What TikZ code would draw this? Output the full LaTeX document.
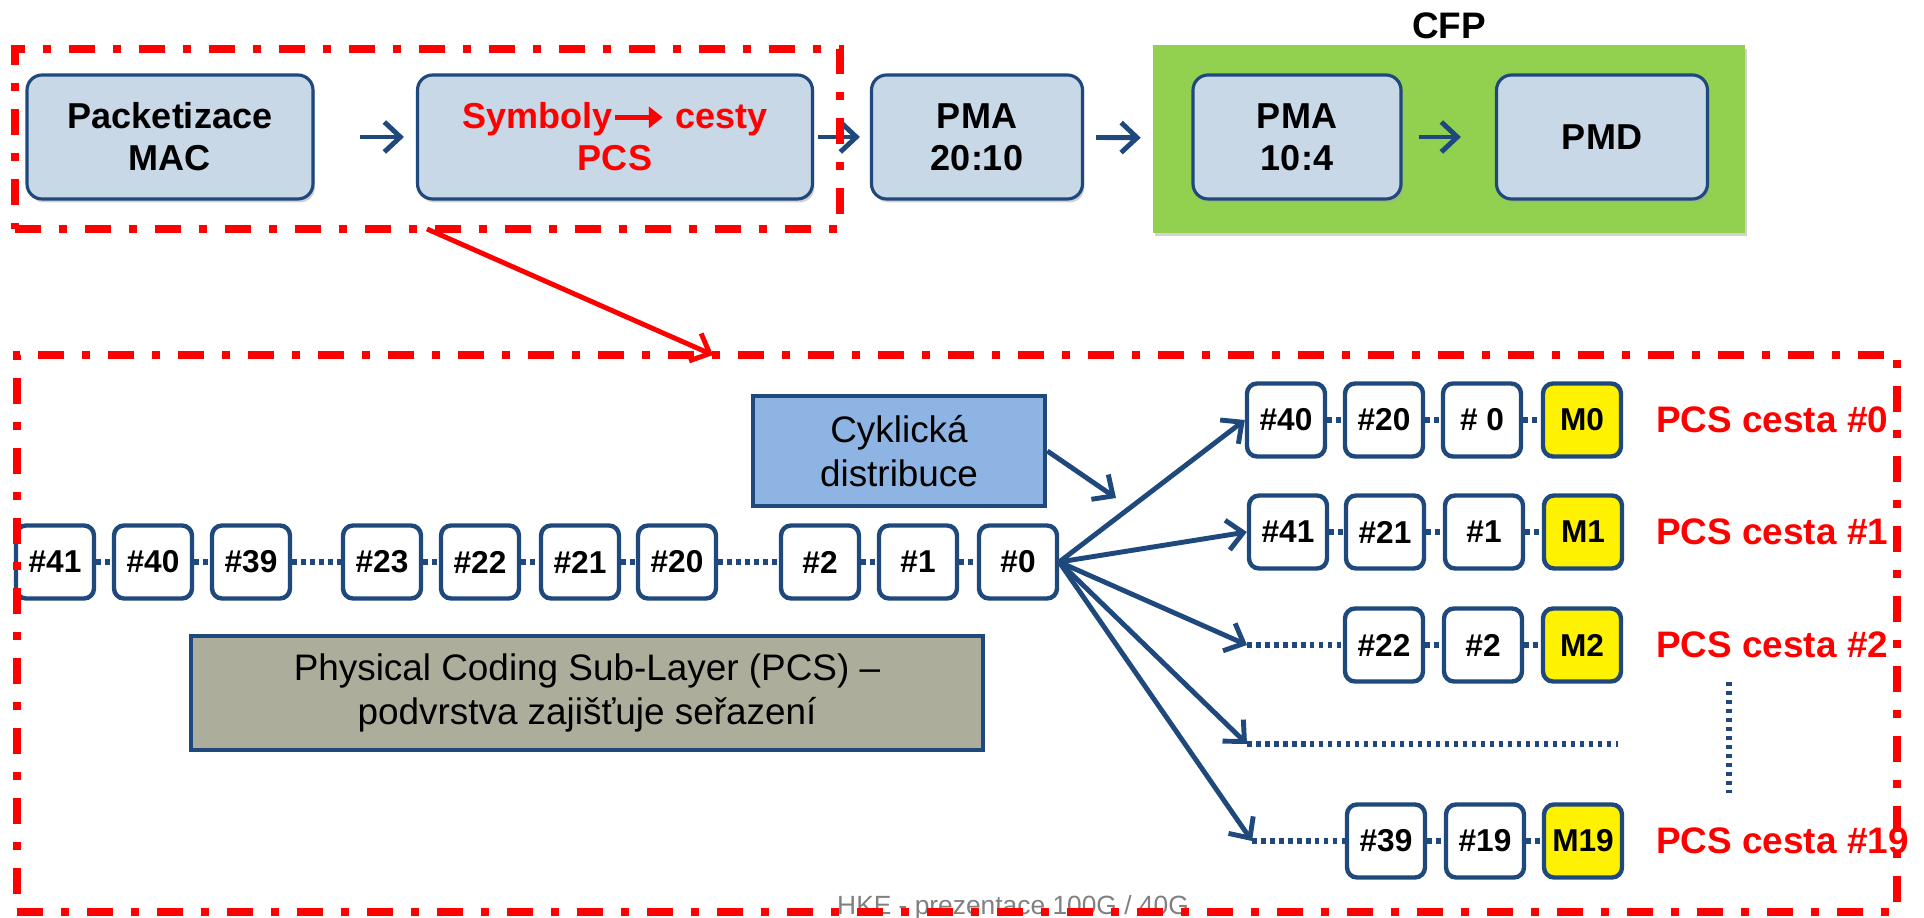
\documentclass[tikz,border=0pt]{standalone}
\usepackage{fontspec}
\setmainfont{Liberation Sans}
\usepackage{xcolor}
\usepackage{tikz}
\usetikzlibrary{positioning, arrows.meta, shadows}
\definecolor{linkblue}{RGB}{31,73,125}
\definecolor{blockfill}{RGB}{200,216,230}
\definecolor{cfpgreen}{RGB}{146,208,80}
\definecolor{distfill}{RGB}{141,180,226}
\definecolor{pcsfill}{RGB}{173,173,155}
\definecolor{footgray}{RGB}{128,128,128}

\begin{document}
\begin{tikzpicture}[
  x=0.02cm, y=-0.02cm,
  blockbox/.style={draw=linkblue, fill=blockfill, line width=1.8pt, rounded corners=0.3cm, minimum width=5.72cm, minimum height=2.48cm, align=center, font=\bfseries\fontsize{20.5}{24}\selectfont, drop shadow={shadow xshift=0.04cm, shadow yshift=-0.07cm, fill=black!35}},
  cfpbox/.style={fill=cfpgreen, minimum width=11.84cm, minimum height=3.76cm, drop shadow={shadow xshift=0.04cm, shadow yshift=-0.07cm, fill=black!35}},
  symbox/.style={draw=linkblue, fill=white, line width=2.5pt, rounded corners=0.2cm, minimum width=1.56cm, minimum height=1.46cm, inner sep=0pt, font=\bfseries\fontsize{18}{20}\selectfont},
  markbox/.style={symbox, fill=yellow},
  plainbox/.style={draw=linkblue, line width=2.7pt, align=center, font=\fontsize{21}{25}\selectfont},
  lanelabel/.style={anchor=west, inner sep=0pt, text=red, font=\bfseries\fontsize{21}{24}\selectfont},
  redframe/.style={draw=red, line width=4.5pt, outer sep=0pt, dash pattern=on 0.52cm off 0.36cm on 0.16cm off 0.36cm},
  flow/.style={draw=linkblue, line width=2.8pt, -{Straight Barb[length=0.32cm, width=0.6cm]}},
  redarrow/.style={draw=red, line width=2.8pt, -{Straight Barb[length=0.32cm, width=0.6cm]}},
  dotlink/.style={draw=linkblue, line width=3pt, dash pattern=on 0.09cm off 0.09cm}
]
\useasboundingbox (0,0) rectangle (1924,918);

% top chain
\node[blockbox] (pkt) at (170,137) {Packetizace\\MAC};
\node[blockbox, minimum width=7.9cm, text=red] (sym) at (615,137) {Symboly\tikz[baseline=-0.6ex]\draw[red, line width=3pt, -{Triangle[length=0.28cm, width=0.42cm]}] (0cm,0cm) -- (0.95cm,0cm);\ cesty\\PCS};
\node[blockbox, minimum width=4.22cm] (pma20) at (977,137) {PMA\\20:10};
\node[cfpbox, label={[font=\bfseries\fontsize{21}{24}\selectfont, label distance=0pt]above:CFP}] (cfp) at (1449,139) {};
\node[blockbox, minimum width=4.16cm] (pma10) at (1297,137) {PMA\\10:4};
\node[blockbox, minimum width=4.22cm] (pmd) at (1602,137) {PMD};

\draw[flow, shorten <=0.9cm, shorten >=0.24cm] (pkt) -- (sym);
\draw[flow, shorten <=0.08cm, shorten >=0.2cm] (sym) -- (pma20);
\draw[flow, shorten <=0.24cm, shorten >=0.24cm] (pma20) -- (cfp);
\draw[flow, shorten <=0.32cm, shorten >=0.68cm] (pma10) -- (pmd);

% PCS detail
\node[plainbox, fill=distfill, minimum width=5.84cm, minimum height=2.2cm] (dist) at (899,451) {Cyklická\\distribuce};
\node[plainbox, fill=pcsfill, minimum width=15.84cm, minimum height=2.28cm] (pcs) at (587,693) {Physical Coding Sub-Layer (PCS) --\\podvrstva zajišťuje seřazení};

% incoming symbols
\node[symbox] (s41) at (55,562) {\#41};
\node[symbox] (s40) at (153,562) {\#40};
\node[symbox] (s39) at (251,562) {\#39};
\node[symbox] (s23) at (382,562) {\#23};
\node[symbox] (s22) at (480,562) {\#22};
\node[symbox] (s21) at (580,562) {\#21};
\node[symbox] (s20) at (677,562) {\#20};
\node[symbox] (s2) at (820,562) {\#2};
\node[symbox] (s1) at (918,562) {\#1};
\node[symbox] (s0) at (1018,562) {\#0};
\draw[dotlink] (s41) -- (s40);
\draw[dotlink] (s40) -- (s39);
\draw[dotlink] (s39) -- (s23);
\draw[dotlink] (s23) -- (s22);
\draw[dotlink] (s22) -- (s21);
\draw[dotlink] (s21) -- (s20);
\draw[dotlink] (s20) -- (s2);
\draw[dotlink] (s2) -- (s1);
\draw[dotlink] (s1) -- (s0);

% lanes
\node[symbox] (l0a) at (1286,420) {\#40};
\node[symbox] (l0b) at (1384,420) {\#20};
\node[symbox] (l0c) at (1482,420) {\# 0};
\node[markbox] (l0m) at (1582,420) {M0};
\node[symbox] (l1a) at (1288,532) {\#41};
\node[symbox] (l1b) at (1385,532) {\#21};
\node[symbox] (l1c) at (1484,532) {\#1};
\node[markbox] (l1m) at (1583,532) {M1};
\node[symbox] (l2b) at (1384,645) {\#22};
\node[symbox] (l2c) at (1483,645) {\#2};
\node[markbox] (l2m) at (1582,645) {M2};
\node[symbox] (l19b) at (1386,841) {\#39};
\node[symbox] (l19c) at (1485,841) {\#19};
\node[markbox] (l19m) at (1583,841) {M19};
\coordinate (l2in) at (1247,645);
\coordinate (ldin) at (1247,744);
\coordinate (ldend) at (1618,744);
\coordinate (l19in) at (1252,841);
\coordinate (vtop) at (1729,682);
\coordinate (vbot) at (1729,793);
\coordinate (distend) at (1116,498);

\draw[dotlink] (l0a) -- (l0b);
\draw[dotlink] (l0b) -- (l0c);
\draw[dotlink] (l0c) -- (l0m);
\draw[dotlink] (l1a) -- (l1b);
\draw[dotlink] (l1b) -- (l1c);
\draw[dotlink] (l1c) -- (l1m);
\draw[dotlink] (l2in) -- (l2b);
\draw[dotlink] (l2b) -- (l2c);
\draw[dotlink] (l2c) -- (l2m);
\draw[dotlink] (ldin) -- (ldend);
\draw[dotlink] (l19in) -- (l19b);
\draw[dotlink] (l19b) -- (l19c);
\draw[dotlink] (l19c) -- (l19m);
\draw[dotlink] (vtop) -- (vbot);

\node[lanelabel] (lab0) at (1656,420) {PCS cesta \#0};
\node[lanelabel] (lab1) at (1656,532) {PCS cesta \#1};
\node[lanelabel] (lab2) at (1656,645) {PCS cesta \#2};
\node[lanelabel] (lab19) at (1656,841) {PCS cesta \#19};

\draw[flow] (dist.east) -- (distend);
\draw[flow] (s0.east) -- (l0a.west);
\draw[flow] (s0.east) -- (l1a.west);
\draw[flow] (s0.east) -- (l2in);
\draw[flow] (s0.east) -- (ldin);
\draw[flow] (s0.east) -- (l19in);

\node[anchor=base, text=footgray, font=\fontsize{15}{18}\selectfont] (foot) at (1013,914) {HKE - prezentace 100G / 40G};

% red frames
\node[redframe, minimum width=16.5cm, minimum height=3.6cm] (topframe) at (427.5,139) {};
\node[redframe, minimum width=37.6cm, minimum height=11.14cm] (lowframe) at (957,633.5) {};
\draw[redarrow] ([xshift=8.24cm]topframe.south west) -- ([xshift=13.92cm]lowframe.north west);
\end{tikzpicture}
\end{document}
